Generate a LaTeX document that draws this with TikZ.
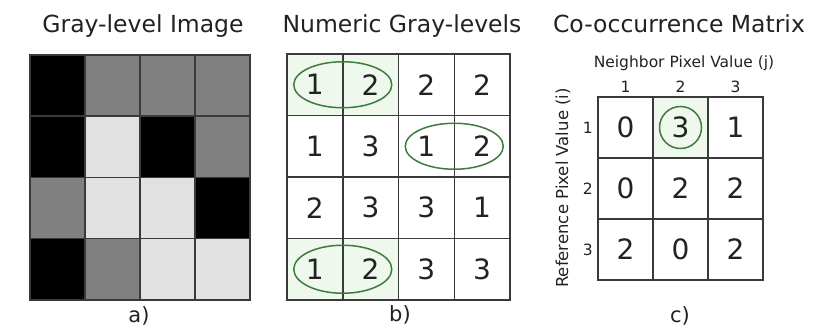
\documentclass[tikz,border=0pt]{standalone}
\usepackage{fontspec}
\setmainfont{DejaVu Sans}
\usepackage{tikz}
\usetikzlibrary{positioning}
\definecolor{ink}{HTML}{222222}
\definecolor{gridline}{HTML}{3A3A3A}
\definecolor{pixdark}{HTML}{000000}
\definecolor{pixmid}{HTML}{808080}
\definecolor{pixlight}{HTML}{E1E1E1}
\definecolor{ringgreen}{HTML}{3E7B3E}
\definecolor{tint}{HTML}{EFF8EC}

\begin{document}
\begin{tikzpicture}[x=1pt, y=-1pt, text=ink,
  cell/.style={draw=gridline, line width=1.5pt, inner sep=0pt, outer sep=0pt,
    minimum width=55.5pt, minimum height=61.3pt, font=\fontsize{28}{28}\selectfont},
  title/.style={font=\fontsize{23.5}{24}\selectfont, anchor=base},
  tag/.style={font=\fontsize{21}{21}\selectfont, inner sep=0pt},
  axis/.style={font=\fontsize{15.5}{16}\selectfont, inner sep=0pt},
  ring/.style={draw=ringgreen, line width=1.5pt}]
  \useasboundingbox (0,0) rectangle (822,329);

  % Gray-level image
  \foreach \f [count=\k from 0] in {pixdark,pixmid,pixmid,pixmid,
      pixdark,pixlight,pixdark,pixmid, pixmid,pixlight,pixlight,pixdark,
      pixdark,pixmid,pixlight,pixlight} {
    \pgfmathtruncatemacro{\r}{floor(\k/4)+1}
    \pgfmathtruncatemacro{\c}{mod(\k,4)+1}
    \node[cell, fill=\f, minimum width=55pt, minimum height=61.2pt]
      (a-\r-\c) at ({30+55*(\c-0.5)}, {55+61.2*(\r-0.5)}) {};
  }
  \node[title] (ttl-a) at (143,33) {Gray-level Image};
  \node[tag] (tag-a) at (139,316) {a)};

  % Numeric gray-levels
  \foreach \v/\f [count=\k from 0] in {1/tint,2/tint,2/white,2/white,
      1/white,3/white,1/white,2/white, 2/white,3/white,3/white,1/white,
      1/tint,2/tint,3/white,3/white} {
    \pgfmathtruncatemacro{\r}{floor(\k/4)+1}
    \pgfmathtruncatemacro{\c}{mod(\k,4)+1}
    \node[cell, fill=\f, minimum width=55.75pt, minimum height=61.5pt]
      (b-\r-\c) at ({287+55.75*(\c-0.5)}, {54+61.5*(\r-0.5)}) {\v};
  }
  \draw[ring] (b-1-1.east) ellipse [x radius=49pt, y radius=23pt];
  \draw[ring] (b-2-3.east) ellipse [x radius=49pt, y radius=23pt];
  \draw[ring] (b-4-1.east) ellipse [x radius=49pt, y radius=24pt];
  \node[title] (ttl-b) at (402,33) {Numeric Gray-levels};
  \node[tag] (tag-b) at (400,315) {b)};

  % Co-occurrence matrix
  \foreach \v/\f [count=\k from 0] in {0/white,3/tint,1/white,
      0/white,2/white,2/white, 2/white,0/white,2/white} {
    \pgfmathtruncatemacro{\r}{floor(\k/3)+1}
    \pgfmathtruncatemacro{\c}{mod(\k,3)+1}
    \node[cell, fill=\f, minimum width=55pt, minimum height=61pt]
      (c-\r-\c) at ({598+55*(\c-0.5)}, {97+61*(\r-0.5)}) {\v};
  }
  \draw[ring] (c-1-2) circle [radius=21pt];
  \foreach \i in {1,2,3} {
    \node[axis, above=4pt of c-1-\i] (col-\i) {\i};
    \node[axis, left=5pt of c-\i-1] (row-\i) {\i};
  }
  \node[title] (ttl-c) at (679,33) {Co-occurrence Matrix};
  \node[axis] (nbr) at (684,63) {Neighbor Pixel Value (j)};
  \node[axis, font=\fontsize{16.5}{17}\selectfont, rotate=90] (ref) at (563,188) {Reference Pixel Value (i)};
  \node[tag] (tag-c) at (680,316) {c)};
\end{tikzpicture}
\end{document}
